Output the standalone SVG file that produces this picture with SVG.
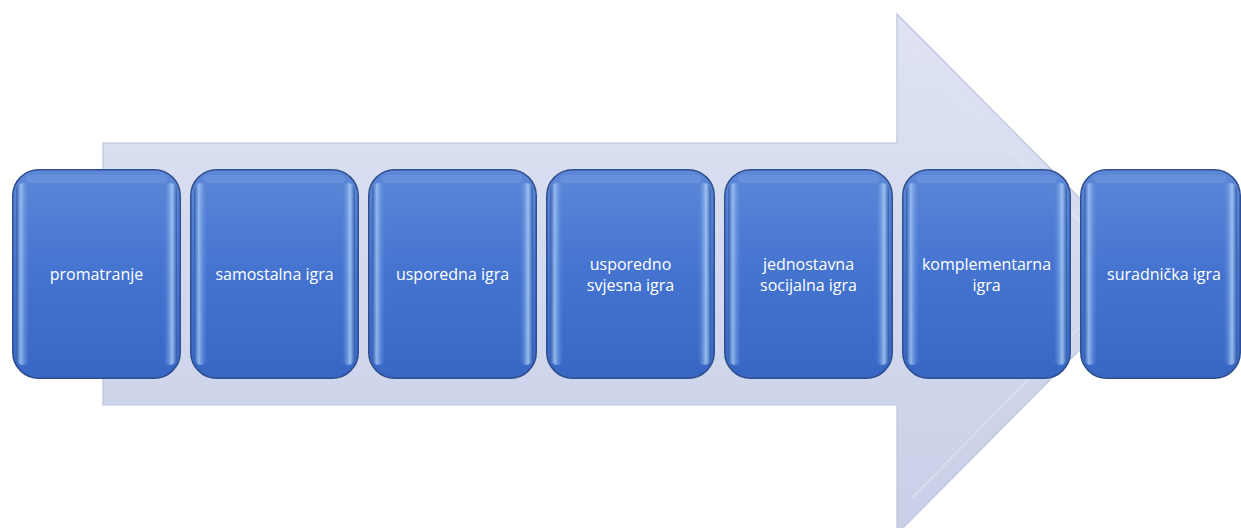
<svg xmlns="http://www.w3.org/2000/svg" width="1241" height="528" viewBox="0 0 1241 528">
<defs>
<linearGradient id="arrowG" x1="0" y1="0" x2="0" y2="1">
<stop offset="0" stop-color="#dfe3f3"/>
<stop offset="0.5" stop-color="#d3d9ee"/>
<stop offset="1" stop-color="#c9cfe6"/>
</linearGradient>
<linearGradient id="boxG" x1="0" y1="0" x2="0" y2="1">
<stop offset="0" stop-color="#5d88d8"/>
<stop offset="0.5" stop-color="#4473d0"/>
<stop offset="1" stop-color="#3766c4"/>
</linearGradient>
<linearGradient id="edgeL" x1="0" y1="0" x2="1" y2="0">
<stop offset="0" stop-color="#2e57a8"/>
<stop offset="0.35" stop-color="#9fc4f4"/>
<stop offset="1" stop-color="#4a78d2" stop-opacity="0"/>
</linearGradient>
<linearGradient id="edgeR" x1="1" y1="0" x2="0" y2="0">
<stop offset="0" stop-color="#2e57a8"/>
<stop offset="0.35" stop-color="#a8cdf6"/>
<stop offset="1" stop-color="#4a78d2" stop-opacity="0"/>
</linearGradient>
<g id="box">
<rect x="0.75" y="0.75" width="167.5" height="208.5" rx="26" ry="26" fill="url(#boxG)" stroke="#2f4e8c" stroke-width="1.5"/>
<rect x="4" y="14" width="14" height="182" rx="7" fill="url(#edgeL)" opacity="0.85"/>
<rect x="151" y="14" width="14" height="182" rx="7" fill="url(#edgeR)" opacity="0.85"/>
<rect x="14" y="6" width="141" height="8" rx="4" fill="#7da2e4" opacity="0.35"/>
</g>
<g id="boxN">
<rect x="0.75" y="0.75" width="159.5" height="208.5" rx="26" ry="26" fill="url(#boxG)" stroke="#2f4e8c" stroke-width="1.5"/>
<rect x="4" y="14" width="14" height="182" rx="7" fill="url(#edgeL)" opacity="0.85"/>
<rect x="143" y="14" width="14" height="182" rx="7" fill="url(#edgeR)" opacity="0.85"/>
<rect x="14" y="6" width="133" height="8" rx="4" fill="#7da2e4" opacity="0.35"/>
</g>
</defs>
<style>
.lbl{font-family:"Open Sans","Liberation Sans",sans-serif;font-size:16px;fill:#ffffff;text-anchor:middle}
</style>
<rect width="1241" height="528" fill="#ffffff"/>
<g id="arrow">
<path d="M103,143 L897,143 L897,14 L1155,274 L897,534 L897,405 L103,405 Z" fill="url(#arrowG)" stroke="#bcc3dc" stroke-width="1.2"/>
<path d="M912,50 L1120,262 M912,498 L1120,286" stroke="#e6e9f6" stroke-width="2" opacity="0.5" fill="none"/>
</g>
<g id="connectors"></g>
<g id="n1"><use href="#box" x="12" y="169"/><text class="lbl" x="96.5" y="280">promatranje</text></g>
<g id="n2"><use href="#box" x="190" y="169"/><text class="lbl" x="274.5" y="280">samostalna igra</text></g>
<g id="n3"><use href="#box" x="368" y="169"/><text class="lbl" x="452.5" y="280">usporedna igra</text></g>
<g id="n4"><use href="#box" x="546" y="169"/><text class="lbl" x="630.5" y="270">usporedno</text><text class="lbl" x="630.5" y="291">svjesna igra</text></g>
<g id="n5"><use href="#box" x="724" y="169"/><text class="lbl" x="808.5" y="270">jednostavna</text><text class="lbl" x="808.5" y="291">socijalna igra</text></g>
<g id="n6"><use href="#box" x="902" y="169"/><text class="lbl" x="986.5" y="270">komplementarna</text><text class="lbl" x="986.5" y="291">igra</text></g>
<g id="n7"><use href="#boxN" x="1080" y="169"/><text class="lbl" x="1164" y="280">suradnička igra</text></g>
</svg>
